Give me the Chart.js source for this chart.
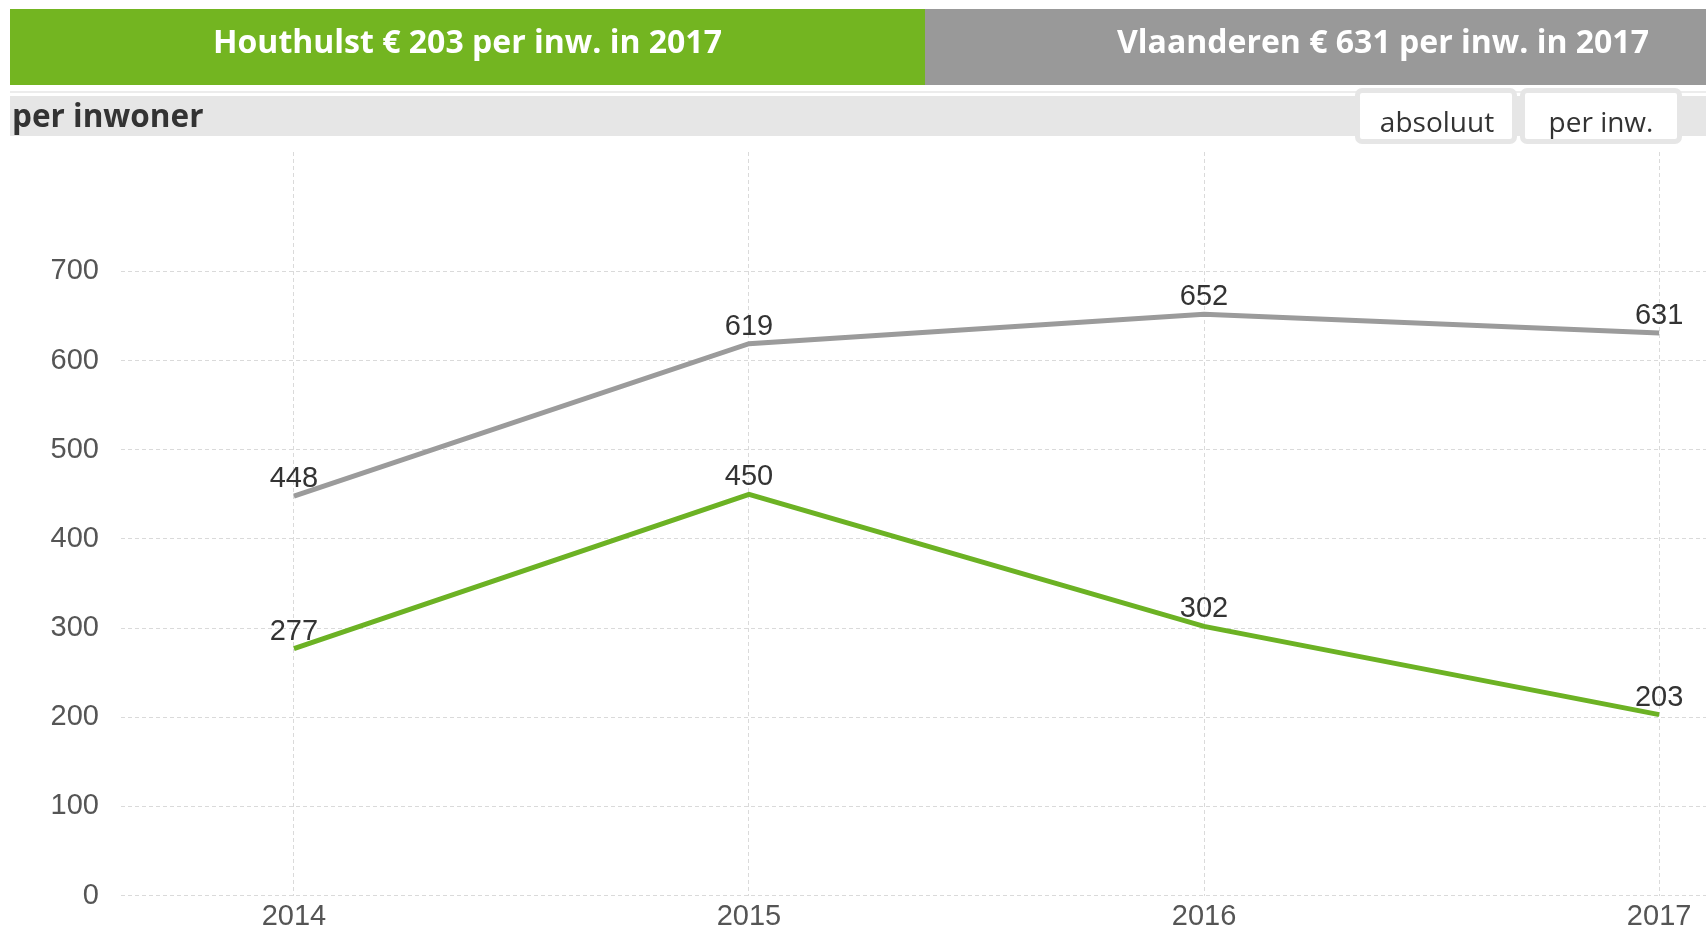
<!DOCTYPE html>
<html>
<head>
<meta charset="utf-8">
<script src="https://cdn.jsdelivr.net/npm/chart.js@4.4.1/dist/chart.umd.min.js"></script>
<style>
  html, body { margin: 0; padding: 0; background: #fff; width: 1706px; height: 935px; overflow: hidden; }
  #c { position: absolute; left: 0; top: 0; }
  .abs { position: absolute; }
  .hdr { font-family: "Open Sans", sans-serif; font-weight: 700; font-size: 32px; line-height: 32px; color: #fff; white-space: nowrap; }
  .btn { position: absolute; top: 88px; width: 152px; height: 46px; border: 5px solid #e6e6e6; border-radius: 7px; background: #fff; }
  .btxt { font-family: "Open Sans", sans-serif; font-size: 28px; line-height: 28px; color: #333; white-space: nowrap; position: absolute; top: 107px; transform: translateX(-50%); }
</style>
</head>
<body>
<canvas id="c" width="1706" height="935"></canvas>
<div class="abs" style="left:10px;top:9px;width:915px;height:76px;background:#73b521;"></div>
<div class="abs" style="left:925px;top:9px;width:781px;height:76px;background:#999999;"></div>
<div class="abs hdr" id="h1" style="left:0;top:25px;width:935px;text-align:center;"></div>
<div class="abs hdr" id="h2" style="left:1117px;top:25px;"></div>
<div class="abs" style="left:10px;top:91px;width:1696px;height:2px;background:#ececec;"></div>
<div class="abs" style="left:10px;top:96px;width:1696px;height:40px;background:#e6e6e6;"></div>
<div class="abs" style="left:12px;top:100px;font-family:'Open Sans',sans-serif;font-weight:700;font-size:31.5px;line-height:30px;color:#333;white-space:nowrap;">per inwoner</div>
<div class="btn" style="left:1355px;"></div>
<div class="btn" style="left:1520px;"></div>
<div class="btxt" style="left:1437px;">absoluut</div>
<div class="btxt" style="left:1601px;">per inw.</div>
<script>
// ---- data ----
const years = [2014, 2015, 2016, 2017];
const houthulst = [277, 450, 302, 203];
const vlaanderen = [448, 619, 652, 631];
const yTickValues = [0, 100, 200, 300, 400, 500, 600, 700];
const seriesNames = ['Houthulst', 'Vlaanderen'];
const lastYear = years[years.length - 1];

document.getElementById('h1').textContent =
  seriesNames[0] + ' \u20ac ' + houthulst[houthulst.length - 1] + ' per inw. in ' + lastYear;
document.getElementById('h2').textContent =
  seriesNames[1] + ' \u20ac ' + vlaanderen[vlaanderen.length - 1] + ' per inw. in ' + lastYear;

const toPoints = arr => arr.map((v, i) => ({ x: years[i], y: v }));

const valueLabels = {
  id: 'valueLabels',
  afterDatasetsDraw(chart) {
    const ctx = chart.ctx;
    ctx.save();
    ctx.font = '29px "Liberation Sans", Arial, sans-serif';
    ctx.fillStyle = '#333333';
    ctx.textAlign = 'center';
    ctx.textBaseline = 'alphabetic';
    chart.data.datasets.forEach((ds, i) => {
      chart.getDatasetMeta(i).data.forEach((pt, j) => {
        ctx.fillText(String(ds.data[j].y), pt.x, pt.y - 9);
      });
    });
    ctx.restore();
  }
};

Chart.defaults.font.family = '"Liberation Sans", Arial, sans-serif';
Chart.defaults.font.size = 29;
Chart.defaults.color = '#555555';

new Chart(document.getElementById('c'), {
  type: 'line',
  data: {
    datasets: [
      {
        label: seriesNames[1],
        data: toPoints(vlaanderen),
        borderColor: '#9b9b9b',
        borderWidth: 5,
        pointRadius: 0,
        tension: 0,
        fill: false
      },
      {
        label: seriesNames[0],
        data: toPoints(houthulst),
        borderColor: '#6cb224',
        borderWidth: 5,
        pointRadius: 0,
        tension: 0,
        fill: false
      }
    ]
  },
  options: {
    responsive: false,
    animation: false,
    layout: { padding: { top: 152, left: 0, right: 0, bottom: 0 } },
    plugins: { legend: { display: false }, tooltip: { enabled: false } },
    scales: {
      x: {
        type: 'linear',
        min: 2013.62,
        max: 2017.103,
        afterBuildTicks: s => { s.ticks = years.map(v => ({ value: v })); },
        afterFit: s => { s.height = 38.3; },
        ticks: { padding: 4, autoSkip: false, maxRotation: 0, callback: v => String(v) },
        grid: { color: '#dadada', lineWidth: 1, drawTicks: false },
        border: { display: false, dash: [4, 3] }
      },
      y: {
        min: 0,
        max: 834,
        afterBuildTicks: s => { s.ticks = yTickValues.map(v => ({ value: v })); },
        afterFit: s => { s.width = 121; },
        ticks: { padding: 22, callback: v => String(v) },
        grid: { color: '#dadada', lineWidth: 1, drawTicks: false },
        border: { display: false, dash: [4, 3] }
      }
    }
  },
  plugins: [valueLabels]
});
</script>
</body>
</html>
